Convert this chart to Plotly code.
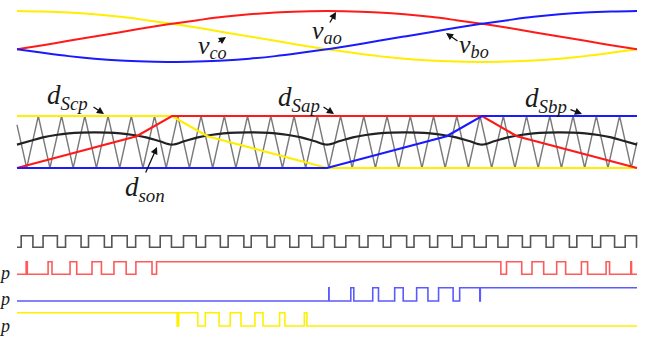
import plotly.graph_objects as go

W, H = 657, 337

# ---------------- data ----------------
theta_sin = [0, 10, 20, 30, 40, 50, 60, 70, 80, 90, 100, 110, 120,
             130, 140, 150, 160, 170, 180, 190, 200, 210, 220, 230, 240]
v_ao = [-0.50, -0.34, -0.17, 0.00, 0.17, 0.34, 0.50, 0.64, 0.77, 0.87, 0.94, 0.98, 1.00,
        0.98, 0.94, 0.87, 0.77, 0.64, 0.50, 0.34, 0.17, 0.00, -0.17, -0.34, -0.50]
v_bo = [-0.50, -0.64, -0.77, -0.87, -0.94, -0.98, -1.00, -0.98, -0.94, -0.87, -0.77, -0.64, -0.50,
        -0.34, -0.17, 0.00, 0.17, 0.34, 0.50, 0.64, 0.77, 0.87, 0.94, 0.98, 1.00]
v_co = [1.00, 0.98, 0.94, 0.87, 0.77, 0.64, 0.50, 0.34, 0.17, 0.00, -0.17, -0.34, -0.50,
        -0.64, -0.77, -0.87, -0.94, -0.98, -1.00, -0.98, -0.94, -0.87, -0.77, -0.64, -0.50]

carrier_theta = [0, 3.75, 8.25, 12.75, 17.25, 21.75, 26.25, 30.75, 35.25, 39.75, 44.25,
                 48.75, 53.25, 57.75, 62.25, 66.75, 71.25, 75.75, 80.25, 84.75, 89.25,
                 93.75, 98.25, 102.75, 107.25, 111.75, 116.25, 120.75, 125.25, 129.75,
                 134.25, 138.75, 143.25, 147.75, 152.25, 156.75, 161.25, 165.75, 170.25,
                 174.75, 179.25, 183.75, 188.25, 192.75, 197.25, 201.75, 206.25, 210.75,
                 215.25, 219.75, 224.25, 228.75, 233.25, 237.75, 240]
carrier_level = [0.83, 0, 1, 0, 1, 0, 1, 0, 1, 0, 1, 0, 1, 0, 1, 0, 1, 0, 1, 0, 1,
                 0, 1, 0, 1, 0, 1, 0, 1, 0, 1, 0, 1, 0, 1, 0, 1, 0, 1, 0, 1,
                 0, 1, 0, 1, 0, 1, 0, 1, 0, 1, 0, 1, 0, 0.5]

d_theta = [0, 5, 10, 15, 20, 25, 30, 35, 40, 45, 50, 55, 60, 65, 70, 75, 80, 85, 90,
           95, 100, 105, 110, 115, 120, 125, 130, 135, 140, 145, 150, 155, 160, 165,
           170, 175, 180, 185, 190, 195, 200, 205, 210, 215, 220, 225, 230, 235, 240]
d_son = [0.45, 0.52, 0.59, 0.635, 0.665, 0.68, 0.685, 0.68, 0.665, 0.635, 0.59, 0.52,
         0.45, 0.52, 0.59, 0.635, 0.665, 0.68, 0.685, 0.68, 0.665, 0.635, 0.59, 0.52,
         0.45, 0.52, 0.59, 0.635, 0.665, 0.68, 0.685, 0.68, 0.665, 0.635, 0.59, 0.52,
         0.45, 0.52, 0.59, 0.635, 0.665, 0.68, 0.685, 0.68, 0.665, 0.635, 0.59, 0.52,
         0.45]

dSap_theta = [0, 46.3, 60, 180, 193.5, 240]
dSap = [0, 0.61, 1, 1, 0.61, 0]
dSbp_theta = [0, 120, 166.3, 180, 240]
dSbp = [0, 0, 0.61, 1, 1]
dScp_theta = [0, 60, 73.7, 120, 240]
dScp = [1, 1, 0.61, 0, 0]

# switching edges (toggle instants) of the pulse trains
son_start = 0
son_edges = [1.62, 6.16, 10.09, 15.63, 18.79, 24.81, 27.68, 33.82, 36.71, 42.67, 45.93,
             51.32, 55.44, 59.79, 64.45, 69.37, 72.97, 78.71, 81.73, 87.82, 90.67, 96.79,
             99.75, 105.59, 109.06, 114.14, 118.64, 122.96, 127.27, 132.51, 135.87,
             141.77, 144.69, 150.83, 153.68, 159.75, 162.83, 168.47, 172.24, 176.97,
             181.62, 186.16, 190.09, 195.63, 198.79, 204.81, 207.68, 213.82, 216.71,
             222.67, 225.93, 231.32, 235.44, 239.81]
sap_start = 0
sap_edges = [3.54, 3.99, 12.04, 13.55, 20.53, 23.12, 29.03, 32.69, 37.53, 42.26, 46.02,
             52.26, 54.02, 187.30, 189.48, 195.38, 199.35, 203.88, 208.91, 212.38,
             218.48, 220.88, 228.04, 229.38, 237.61, 237.88]
sbp_start = 0
sbp_edges = [120.71, 120.80, 129.21, 130.37, 137.70, 139.93, 146.20, 149.50, 154.70,
             159.07, 163.19, 168.82, 171.36, 179.14, 179.34]
scp_start = 1
scp_edges = [61.99, 62.58, 69.97, 72.90, 78.23, 82.53, 86.72, 92.10, 95.22, 101.66,
             103.72, 111.23, 112.21]

T_END = 240

# ---------------- styling / layout ----------------
RED, BLUE, YEL = "#ff1a1a", "#1a1aff", "#ffee00"
PRED, PBLUE, PYEL, PBLK = "#ff5a5a", "#5a5aff", "#fff000", "#555555"
TXT = "#1a1a1a"
SERIF = "Liberation Serif, Times New Roman, serif"


def axis_dom(pix_lo, pix_hi, lo, hi, pad):
    ppu = (pix_lo - pix_hi) / (hi - lo)
    bottom = pix_lo + pad * ppu
    top = pix_hi - pad * ppu
    return dict(domain=[1 - bottom / H, 1 - top / H], range=[lo - pad, hi + pad],
                visible=False, fixedrange=True, anchor="x")


def steps(start, edges):
    xs = [0] + list(edges) + [T_END]
    ys = [start]
    lvl = start
    for _ in edges:
        lvl = 1 - lvl
        ys.append(lvl)
    ys.append(lvl)
    return xs, ys


fig = go.Figure()

# panel 1 : sinusoids
for ys, col in [(v_co, YEL), (v_ao, RED), (v_bo, BLUE)]:
    fig.add_trace(go.Scatter(x=theta_sin, y=ys, mode="lines", yaxis="y",
                             line=dict(color=col, width=2, shape="spline"),
                             showlegend=False, hoverinfo="skip"))

# panel 2 : carrier, d_son, duty cycles
fig.add_trace(go.Scatter(x=carrier_theta, y=carrier_level, mode="lines", yaxis="y2",
                         line=dict(color="#7a7a7a", width=1.4), showlegend=False,
                         hoverinfo="skip"))
fig.add_trace(go.Scatter(x=d_theta, y=d_son, mode="lines", yaxis="y2",
                         line=dict(color="#222222", width=2.2, shape="spline"),
                         showlegend=False, hoverinfo="skip"))
for xs, ys, col in [(dScp_theta, dScp, YEL), (dSap_theta, dSap, RED), (dSbp_theta, dSbp, BLUE)]:
    fig.add_trace(go.Scatter(x=xs, y=ys, mode="lines", yaxis="y2",
                             line=dict(color=col, width=2.2), showlegend=False,
                             hoverinfo="skip"))

# panel 3 : pulse trains
for start, edges, col, ax in [(son_start, son_edges, PBLK, "y3"), (sap_start, sap_edges, PRED, "y4"),
                              (sbp_start, sbp_edges, PBLUE, "y5"), (scp_start, scp_edges, PYEL, "y6")]:
    xs, ys = steps(start, edges)
    fig.add_trace(go.Scatter(x=xs, y=ys, mode="lines", yaxis=ax,
                             line=dict(color=col, width=1.6, shape="hv"),
                             showlegend=False, hoverinfo="skip"))

px_per_deg = 620 / 240.0
x0 = -17 / px_per_deg
x1 = x0 + W / px_per_deg

fig.update_layout(
    width=W, height=H, autosize=False,
    margin=dict(l=0, r=0, t=0, b=0, pad=0),
    paper_bgcolor="white", plot_bgcolor="white",
    xaxis=dict(range=[x0, x1], domain=[0, 1], visible=False, fixedrange=True),
    yaxis=axis_dom(62, 11, -1, 1, 0.1),
    yaxis2=axis_dom(168, 116, 0, 1, 0.1),
    yaxis3=axis_dom(247.3, 235.7, 0, 1, 0.3),
    yaxis4=axis_dom(274.3, 261.7, 0, 1, 0.3),
    yaxis5=axis_dom(301, 287.7, 0, 1, 0.3),
    yaxis6=axis_dom(326, 312.7, 0, 1, 0.3),
    showlegend=False,
)

# labels
def label(xp, yp, main, sub, size):
    txt = "<i>%s</i>" % main
    if sub:
        txt += "<sub><i>%s</i></sub>" % sub
    fig.add_annotation(x=xp / W, y=1 - yp / H, xref="paper", yref="paper",
                       xanchor="left", yanchor="middle", showarrow=False,
                       text=txt, font=dict(family=SERIF, size=size, color=TXT))


def arrow(tail, tip):
    fig.add_annotation(x=tip[0] / W, y=1 - tip[1] / H, xref="paper", yref="paper",
                       ax=tail[0] - tip[0], ay=tail[1] - tip[1], text="",
                       showarrow=True, arrowhead=2, arrowsize=1.1, arrowwidth=1.3,
                       arrowcolor="#111111", standoff=0, startstandoff=0)


label(196, 47, "v", "co", 26)
label(310, 32, "v", "ao", 26)
label(457, 46, "v", "bo", 26)
label(45, 97, "d", "Scp", 27)
label(276, 99, "d", "Sap", 27)
label(523, 100, "d", "Sbp", 27)
label(123, 189, "d", "son", 27)
label(-3, 273, "p", "", 18)
label(-3, 299, "p", "", 18)
label(-3, 326, "p", "", 18)

arrow((217, 43), (226, 37))
arrow((329, 24), (336, 12))
arrow((459, 42), (446, 33))
arrow((92, 106), (104, 114))
arrow((322, 106), (334, 114))
arrow((569, 109), (582, 114))
arrow((145, 174), (157, 147))

fig.write_html(
    "out.html",
    config={"displayModeBar": False, "staticPlot": True},
    post_script="document.body.style.margin='0px';document.body.style.overflow='hidden';",
)
